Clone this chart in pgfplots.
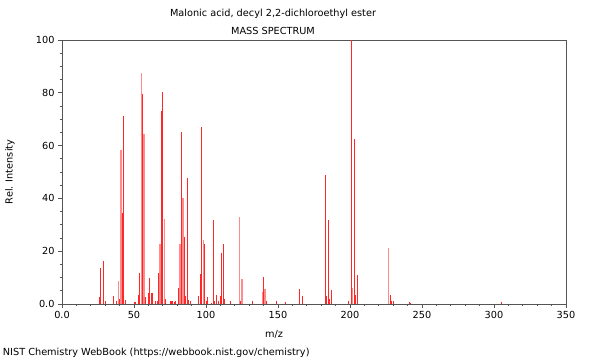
\documentclass[border=0pt]{standalone}
\usepackage{pgfplots}
\pgfplotsset{compat=1.18}
\usepackage{fontspec}
\setmainfont{DejaVu Sans}
\definecolor{barred}{RGB}{255,40,40}
\definecolor{barpale}{RGB}{255,140,140}
\definecolor{axgray}{RGB}{85,85,85}
\begin{document}
\fontsize{7.3}{9}\selectfont
\begin{tikzpicture}
\useasboundingbox (0,0) rectangle (450pt,270pt);
\begin{axis}[
  at={(46.5pt,42pt)}, anchor=south west,
  scale only axis, width=378pt, height=198pt,
  xmin=0, xmax=350, ymin=0, ymax=100,
  xtick={0,50,100,150,200,250,300,350},
  xticklabels={0.0,50,100,150,200,250,300,350},
  ytick={0,20,40,60,80,100},
  yticklabels={0.0,20,40,60,80,100},
  minor x tick num=4, minor y tick num=3,
  tick pos=left, tick align=outside,
  major tick length=3pt, minor tick length=1.7pt,
  axis line style={axgray, line width=0.7pt},
  every tick/.style={axgray, line width=0.6pt},
  /pgf/number format/assume math mode=true,
  ticklabel style={font=\fontsize{7.3}{9}\selectfont, text=black},
  clip=false,
]
\addplot[ycomb, barred, line width=0.75pt, mark=none] coordinates {
(26,2.8)(27,13.5)(29,16.3)(30,1.0)(36,3.1)(38,1.2)(40,2.0)
(42,34.6)(43,71.2)(44,1.5)(50,0.8)(51,0.8)(53,3.4)(54,11.6)
(56,79.5)(58,2.8)(60,4.0)(61,9.7)(62,4.0)(63,4.0)(65,1.0)(66,1.0)
(67,11.9)(69,73.1)(70,80.2)(72,2.0)(75,1.0)(76,1.2)(77,1.0)(78,0.8)(79,1.0)
(81,5.9)(83,65.2)(85,25.3)(86,3.0)(87,47.6)(88,1.5)(89,1.0)
(95,3.0)(96,11.4)(97,67.2)(99,22.7)(100,1.0)(101,2.5)(104,0.5)
(105,31.8)(106,1.0)(107,3.4)(109,1.0)(110,3.0)(111,19.2)(112,22.7)(113,2.0)
(117,1.0)(124,1.0)(132,1.2)(140,10.4)(142,1.0)(149,1.0)(155,0.8)
(165,5.7)(167,3.0)(183,48.9)(184,3.0)(185,31.8)(186,2.0)(187,5.3)
(199,1.0)(201,100)(203,62.4)(204,3.5)(205,11.0)(228,3.4)(229,1.0)(230,1.0)
(241,0.8)(242,0.5)(305,0.8)
};
\addplot[ycomb, barpale, line width=0.9pt, mark=none] coordinates {
(39,8.7)(41,58.3)(55,87.6)(57,64.4)(68,22.7)(71,32.2)(82,22.7)(84,40.0)
(98,24.2)(123,33.1)(125,9.5)(139,4.7)(141,5.6)(202,6.2)(227,21.1)
};
\end{axis}
\node at (204.75pt,260pt) {Malonic acid, decyl 2,2-dichloroethyl ester};
\node at (204.75pt,247pt) {MASS SPECTRUM};
\node at (205.5pt,19.5pt) {m/z};
\node[anchor=west, inner sep=0pt] at (2pt,5.25pt) {NIST Chemistry WebBook (https://webbook.nist.gov/chemistry)};
\node[rotate=90] at (7.5pt,141pt) {Rel. Intensity};
\end{tikzpicture}
\end{document}
